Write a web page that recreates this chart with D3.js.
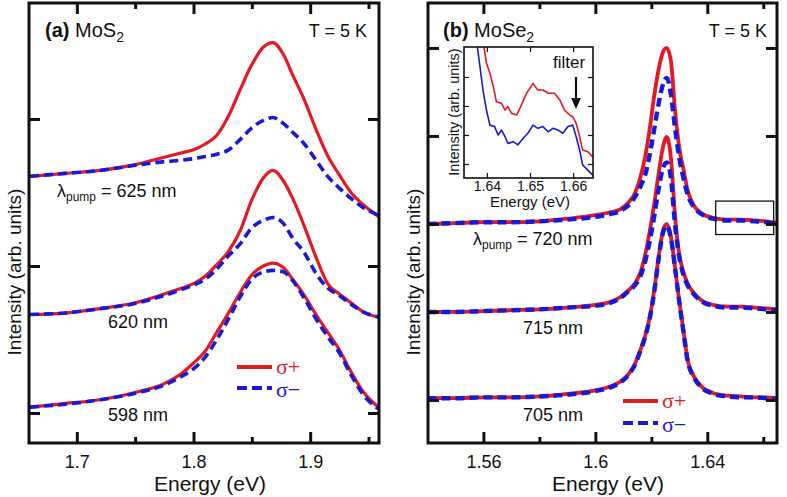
<!DOCTYPE html>
<html><head><meta charset="utf-8">
<script src="https://cdn.jsdelivr.net/npm/d3@7"></script>
<style>
body{margin:0;background:#fff}
svg{display:block}
</style></head>
<body><svg id="c" width="787" height="497"></svg>
<script>
// ---------- Panel (a) MoS2 ----------
const energyA = [1.66,1.69,1.72,1.75,1.775,1.79,1.80,1.81,1.82,1.83,1.84,1.85,1.86,1.868,1.877,1.885,1.895,1.905,1.915,1.925,1.935,1.945,1.96];
const mos2Plus625  = [1.61,1.63,1.65,1.69,1.74,1.77,1.79,1.83,1.89,2.02,2.20,2.37,2.49,2.52,2.44,2.30,2.13,1.93,1.75,1.62,1.50,1.42,1.33];
const mos2Minus625 = [1.61,1.63,1.65,1.685,1.71,1.72,1.73,1.745,1.76,1.79,1.86,1.94,1.99,2.01,1.97,1.91,1.83,1.72,1.61,1.53,1.46,1.40,1.34];
const mos2Plus620  = [0.67,0.68,0.71,0.75,0.81,0.85,0.88,0.93,1.01,1.10,1.24,1.45,1.60,1.65,1.58,1.46,1.27,1.06,0.88,0.81,0.75,0.69,0.65];
const mos2Minus620 = [0.67,0.68,0.71,0.745,0.80,0.84,0.87,0.91,0.98,1.07,1.15,1.26,1.31,1.33,1.29,1.19,1.09,0.95,0.85,0.80,0.74,0.69,0.65];
const mos2Plus598  = [0.04,0.065,0.09,0.14,0.20,0.27,0.34,0.42,0.55,0.68,0.82,0.94,1.00,1.02,0.99,0.91,0.80,0.67,0.55,0.43,0.28,0.15,0.03];
const mos2Minus598 = [0.04,0.06,0.09,0.135,0.19,0.25,0.30,0.38,0.50,0.64,0.79,0.91,0.96,0.97,0.96,0.90,0.78,0.64,0.52,0.41,0.26,0.13,0.02];
const ticksA = [1.7,1.8,1.9];
const minorTicksA = [1.75,1.85,1.95];
const yTicksA = [0,1,2];

// ---------- Panel (b) MoSe2 ----------
const energyB = [1.54,1.55,1.56,1.57,1.58,1.59,1.60,1.605,1.609,1.612,1.614,1.616,1.618,1.6195,1.621,1.6225,1.624,1.6255,1.627,1.6285,1.63,1.6315,1.633,1.635,1.638,1.642,1.647,1.652,1.657,1.661,1.665];
const mose2Plus720  = [2.00,2.01,2.02,2.02,2.03,2.06,2.10,2.13,2.17,2.25,2.34,2.52,2.80,3.10,3.45,3.74,3.94,4.00,3.85,3.28,2.86,2.62,2.38,2.22,2.12,2.07,2.05,2.05,2.04,2.03,2.01];
const mose2Minus720 = [2.00,2.01,2.02,2.02,2.03,2.05,2.08,2.11,2.15,2.22,2.30,2.42,2.58,2.80,3.07,3.35,3.57,3.66,3.47,3.08,2.75,2.52,2.33,2.20,2.11,2.06,2.04,2.04,2.03,2.02,2.00];
const mose2Plus715  = [1.00,1.00,1.01,1.02,1.03,1.05,1.08,1.11,1.17,1.25,1.32,1.44,1.68,1.93,2.22,2.55,2.85,2.99,2.75,2.08,1.65,1.45,1.32,1.22,1.13,1.08,1.06,1.06,1.05,1.04,1.03];
const mose2Minus715 = [1.00,1.00,1.01,1.02,1.03,1.05,1.07,1.10,1.16,1.24,1.30,1.40,1.60,1.82,2.08,2.38,2.62,2.70,2.52,1.98,1.62,1.42,1.30,1.21,1.12,1.07,1.05,1.05,1.04,1.03,1.02];
const mose2Plus705  = [0.02,0.02,0.03,0.03,0.04,0.07,0.11,0.15,0.21,0.30,0.40,0.56,0.75,0.95,1.24,1.60,1.90,2.00,1.85,1.50,1.12,0.78,0.45,0.28,0.15,0.08,0.05,0.04,0.03,0.03,0.02];
const mose2Minus705 = [0.02,0.02,0.03,0.03,0.04,0.06,0.10,0.14,0.20,0.29,0.39,0.55,0.74,0.94,1.22,1.58,1.88,1.98,1.84,1.49,1.11,0.77,0.44,0.27,0.14,0.07,0.04,0.03,0.03,0.02,0.01];
const ticksB = [1.56,1.60,1.64];
const tickLabelsB = ["1.56","1.6","1.64"];
const minorTicksB = [1.58,1.62,1.66];
const yTicksB = [0,1,2,3,4];

// ---------- Inset ----------
const insetEnergyPlus = [1.6385,1.6394,1.6399,1.6407,1.6415,1.6422,1.6434,1.6442,1.6449,1.6457,1.6469,1.648,1.6492,1.6507,1.6518,1.653,1.6542,1.6557,1.6569,1.658,1.6592,1.6599,1.6607,1.6615,1.6622,1.6634,1.6645,1.6655];
const insetPlus = [5.6,4.97,4.48,4.13,3.67,3.15,3.09,2.86,2.98,2.75,2.69,3.03,3.44,3.78,3.55,3.55,3.44,3.44,3.21,2.86,2.69,2.63,2.40,1.94,1.48,1.42,1.25,1.15];
const insetEnergyMinus = [1.6372,1.6379,1.6384,1.6391,1.6399,1.6407,1.6418,1.6426,1.6434,1.6442,1.6449,1.6461,1.6472,1.6484,1.6495,1.6507,1.6518,1.653,1.6542,1.6553,1.6565,1.6576,1.6588,1.6599,1.6607,1.6615,1.6622,1.6634,1.6645,1.6655];
const insetMinus = [5.6,4.93,4.36,3.55,2.86,2.34,2.29,2.0,2.17,1.94,1.71,1.77,1.66,1.89,2.06,2.34,2.23,2.29,2.11,2.23,2.17,2.06,2.29,2.34,1.94,1.48,0.97,0.79,0.62,0.5];
const insetTicks = [1.64,1.65,1.66];
const insetYTicks = [1,2,3,4];

const RED = "#e41a22", BLUE = "#1818d8";
const SANS = "'Liberation Sans', Arial, sans-serif";
const SERIF = "'Liberation Serif', 'Times New Roman', serif";
const svg = d3.select("#c");
const defs = svg.append("defs");

function frameAxes(g, x, y, box, opts){
  const [L,T,R,B] = box;
  const hide = s => { s.select(".domain").remove(); s.selectAll("line").attr("stroke","#111").attr("stroke-width",opts.tw); };
  g.append("g").attr("transform",`translate(0,${B})`)
    .call(d3.axisBottom(x).tickValues(opts.xt).tickSize(-opts.major).tickSizeOuter(0).tickPadding(opts.pad).tickFormat((d,i)=>opts.xl[i]))
    .call(hide).call(s=>s.selectAll("text").attr("font-size",opts.fs).attr("fill","#111").attr("font-family",SANS));
  if(opts.xm){
    g.append("g").attr("transform",`translate(0,${B})`).call(d3.axisBottom(x).tickValues(opts.xm).tickSize(-opts.minor).tickSizeOuter(0).tickFormat("")).call(hide);
    g.append("g").attr("transform",`translate(0,${T})`).call(d3.axisTop(x).tickValues(opts.xm).tickSize(-opts.minor).tickSizeOuter(0).tickFormat("")).call(hide);
  }
  g.append("g").attr("transform",`translate(0,${T})`).call(d3.axisTop(x).tickValues(opts.xt).tickSize(-opts.major).tickSizeOuter(0).tickFormat("")).call(hide);
  g.append("g").attr("transform",`translate(${L},0)`).call(d3.axisLeft(y).tickValues(opts.yt).tickSize(-opts.major).tickSizeOuter(0).tickFormat("")).call(hide);
  g.append("g").attr("transform",`translate(${R},0)`).call(d3.axisRight(y).tickValues(opts.yt).tickSize(-opts.major).tickSizeOuter(0).tickFormat("")).call(hide);
  g.append("rect").attr("x",L).attr("y",T).attr("width",R-L).attr("height",B-T)
    .attr("fill","none").attr("stroke","#111").attr("stroke-width",opts.fw);
}

function drawSeries(g, x, y, energies, values, color, dashed, width, clipId, curve){
  const line = d3.line().x((d,i)=>x(energies[i])).y(d=>y(d)).curve(curve || d3.curveMonotoneX);
  g.append("path").datum(values).attr("d",line).attr("fill","none")
    .attr("stroke",color).attr("stroke-width",width)
    .attr("stroke-dasharray",dashed?dashed:null)
    .attr("stroke-linejoin","round")
    .attr("clip-path",`url(#${clipId})`);
}

function clip(id, box){
  const [L,T,R,B]=box;
  defs.append("clipPath").attr("id",id).append("rect").attr("x",L).attr("y",T).attr("width",R-L).attr("height",B-T);
}

function txt(g, x, y, size, anchor, parts, color, family){
  const t = g.append("text").attr("x",x).attr("y",y).attr("font-size",size).attr("text-anchor",anchor||"start")
    .attr("font-family",family||SANS).attr("fill",color||"#111");
  parts.forEach(p=>{
    const s = t.append("tspan").text(p.t);
    if(p.b) s.attr("font-weight","bold");
    if(p.fs) s.attr("font-size",p.fs);
    if(p.dy) s.attr("dy",p.dy);
  });
  return t;
}
function vlabel(g, x, y, size, s){
  g.append("text").attr("transform",`translate(${x},${y}) rotate(-90)`).attr("text-anchor","middle")
    .attr("font-size",size).attr("font-family",SANS).attr("fill","#111").text(s);
}

// ====== Panel (a) ======
const boxA = [29,3,379,443];
const xA = d3.scaleLinear().domain([1.659,1.959]).range([boxA[0],boxA[2]]);
const yA = d3.scaleLinear().domain([-0.204,2.789]).range([boxA[3],boxA[1]]);
const gA = svg.append("g");
clip("clipA", boxA);
[[mos2Plus598,mos2Minus598],[mos2Plus620,mos2Minus620],[mos2Plus625,mos2Minus625]].forEach(([p,m])=>{
  drawSeries(gA,xA,yA,energyA,p,RED,null,3.2,"clipA");
  drawSeries(gA,xA,yA,energyA,m,BLUE,"9,5",3.6,"clipA");
});
frameAxes(gA,xA,yA,boxA,{xt:ticksA,xl:ticksA.map(d3.format(".1f")),xm:minorTicksA,yt:yTicksA,major:11,minor:6,tw:3,fw:3,fs:18,pad:12});
txt(gA,45,37,20,"start",[{t:"(a)",b:true},{t:" MoS"},{t:"2",fs:14,dy:5}]);
txt(gA,367,37,18,"end",[{t:"T = 5 K"}]);
txt(gA,57,197,18,"start",[{t:"λ"},{t:"pump",fs:12,dy:4},{t:" = 625 nm",dy:-4}]);
txt(gA,108,328,18,"start",[{t:"620 nm"}]);
txt(gA,108,421,18,"start",[{t:"598 nm"}]);
txt(gA,210,491,21,"middle",[{t:"Energy (eV)"}]);
vlabel(gA,21,272,19,"Intensity (arb. units)");
// legend (a)
gA.append("line").attr("x1",237).attr("x2",272).attr("y1",367).attr("y2",367).attr("stroke",RED).attr("stroke-width",4);
gA.append("line").attr("x1",237).attr("x2",272).attr("y1",388).attr("y2",388).attr("stroke",BLUE).attr("stroke-width",4).attr("stroke-dasharray","10,5");
txt(gA,276,374,22,"start",[{t:"σ+"}],RED,SERIF);
txt(gA,276,397,22,"start",[{t:"σ−"}],BLUE,SERIF);

// ====== Panel (b) ======
const boxB = [428,3,777,443];
const xB = d3.scaleLinear().domain([1.5402,1.6649]).range([boxB[0],boxB[2]]);
const yB = d3.scaleLinear().domain([-0.489,4.511]).range([boxB[3],boxB[1]]);
const gB = svg.append("g");
clip("clipB", boxB);
[[mose2Plus705,mose2Minus705],[mose2Plus715,mose2Minus715],[mose2Plus720,mose2Minus720]].forEach(([p,m])=>{
  drawSeries(gB,xB,yB,energyB,p,RED,null,3.8,"clipB");
  drawSeries(gB,xB,yB,energyB,m,BLUE,"9,5",4.4,"clipB");
});
frameAxes(gB,xB,yB,boxB,{xt:ticksB,xl:tickLabelsB,xm:minorTicksB,yt:yTicksB,major:11,minor:6,tw:3,fw:3,fs:18,pad:12});
txt(gB,443,37,20,"start",[{t:"(b)",b:true},{t:" MoSe"},{t:"2",fs:14,dy:5}]);
txt(gB,767,37,18,"end",[{t:"T = 5 K"}]);
txt(gB,473,245,18,"start",[{t:"λ"},{t:"pump",fs:12,dy:4},{t:" = 720 nm",dy:-4}]);
txt(gB,523,334,18,"start",[{t:"715 nm"}]);
txt(gB,523,421,18,"start",[{t:"705 nm"}]);
txt(gB,608,491,21,"middle",[{t:"Energy (eV)"}]);
vlabel(gB,420,272,19,"Intensity (arb. units)");
// zoom box
gB.append("rect").attr("x",xB(1.6430)).attr("y",yB(2.26)).attr("width",xB(1.6637)-xB(1.6430)).attr("height",yB(1.88)-yB(2.26))
  .attr("fill","none").attr("stroke","#111").attr("stroke-width",1.3);
// legend (b)
gB.append("line").attr("x1",623).attr("x2",658).attr("y1",401).attr("y2",401).attr("stroke",RED).attr("stroke-width",4);
gB.append("line").attr("x1",623).attr("x2",658).attr("y1",423).attr("y2",423).attr("stroke",BLUE).attr("stroke-width",4).attr("stroke-dasharray","10,5");
txt(gB,662,408,22,"start",[{t:"σ+"}],RED,SERIF);
txt(gB,662,432,22,"start",[{t:"σ−"}],BLUE,SERIF);

// ====== Inset ======
const boxI = [464,47,593,178];
const xI = d3.scaleLinear().domain([1.6347,1.6646]).range([boxI[0],boxI[2]]);
const yI = d3.scaleLinear().domain([0.517,5.034]).range([boxI[3],boxI[1]]);
const gI = svg.append("g");
gI.append("rect").attr("x",boxI[0]).attr("y",boxI[1]).attr("width",boxI[2]-boxI[0]).attr("height",boxI[3]-boxI[1]).attr("fill","#fff");
clip("clipI", boxI);
drawSeries(gI,xI,yI,insetEnergyPlus,insetPlus,RED,null,1.6,"clipI",d3.curveLinear);
drawSeries(gI,xI,yI,insetEnergyMinus,insetMinus,BLUE,null,1.6,"clipI",d3.curveLinear);
frameAxes(gI,xI,yI,boxI,{xt:insetTicks,xl:insetTicks.map(d3.format(".2f")),xm:null,yt:insetYTicks,major:5,minor:3,tw:1.2,fw:1.6,fs:14,pad:3});
txt(gI,530,207,15,"middle",[{t:"Energy (eV)"}]);
vlabel(gI,459,112,14.5,"Intensity (arb. units)");
txt(gI,569,68,17,"middle",[{t:"filter"}]);
gI.append("line").attr("x1",576).attr("x2",576).attr("y1",77).attr("y2",100).attr("stroke","#111").attr("stroke-width",2.2);
gI.append("path").attr("d","M571,98 L581,98 L576,109 Z").attr("fill","#111");
</script>
</body></html>
